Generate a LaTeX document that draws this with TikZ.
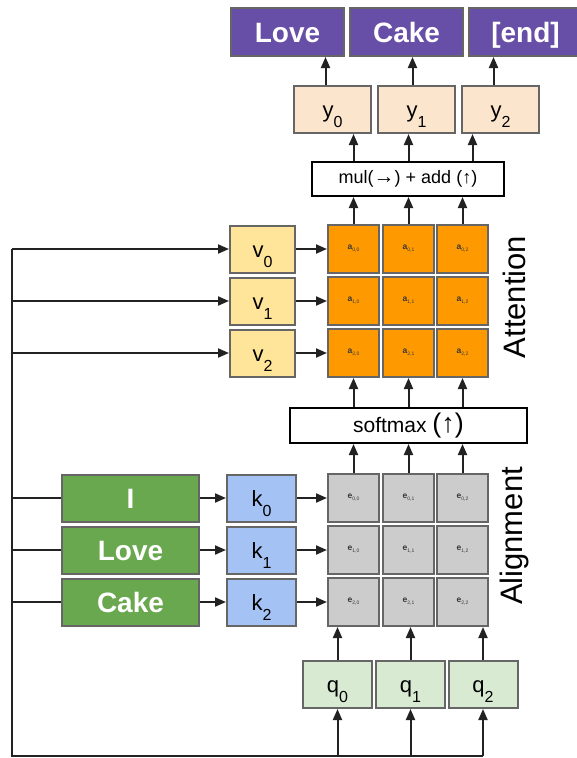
\documentclass[tikz,border=0pt]{standalone}
\usepackage{fontspec}
\setmainfont{Liberation Sans}
\usetikzlibrary{arrows.meta,calc}
\definecolor{wordpurple}{RGB}{103,78,167}
\definecolor{wordgreen}{RGB}{106,168,79}
\definecolor{keyblue}{RGB}{164,194,244}
\definecolor{valyellow}{RGB}{255,229,153}
\definecolor{attorange}{RGB}{255,153,0}
\definecolor{aligngray}{RGB}{204,204,204}
\definecolor{outpeach}{RGB}{252,229,205}
\definecolor{querygreen}{RGB}{217,234,211}
\definecolor{edgegray}{RGB}{102,102,102}
\definecolor{inkblack}{RGB}{34,34,34}
\newcommand{\lbl}[2]{#1\smash{\raisebox{-10pt}{\fontsize{16}{16}\selectfont #2}}}
\newcommand{\cellsub}[3]{{\fontsize{8.5}{8.5}\selectfont\bfseries #1}\raisebox{-2pt}{\fontsize{5}{5}\selectfont #2,#3}}

\begin{document}
\begin{tikzpicture}[x=1pt,y=-1pt,
    box/.style={draw=edgegray, line width=2pt, inner sep=0pt, minimum height=47pt},
    wordbox/.style={box, fill=#1, text=white, minimum height=48pt,
        text height=21pt, text depth=0pt, font=\fontsize{28}{28}\selectfont\bfseries},
    symbox/.style={box, fill=#1, text height=16pt, text depth=0pt,
        font=\fontsize{22}{22}\selectfont},
    cellbox/.style={box, fill=#1, minimum width=51pt, minimum height=48pt, text=inkblack!90},
    opbox/.style={draw=black, line width=2pt, fill=white, inner sep=0pt},
    link/.style={line width=2pt, draw=inkblack},
    >={Triangle[length=11pt,width=9pt]}]
    \useasboundingbox (0,0) rectangle (577,758);

    % Output words
    \foreach \i/\w/\x in {0/Love/287.5,1/Cake/406.5,2/{[end]}/525.5}
        \node[wordbox=wordpurple, minimum width=113pt] (o\i) at (\x,32) {\w};

    % Outputs y
    \foreach \i/\x in {0/332.5,1/416.5,2/500.5}
        \node[symbox=outpeach, minimum width=77pt] (y\i) at (\x,109.5) {\lbl{y}{\i}};

    % mul + add
    \node[opbox, minimum width=192pt, minimum height=34pt,
        font=\fontsize{18}{18}\selectfont] (mul) at (408,179)
        {mul({\fontsize{21}{21}\selectfont→}) + add (↑)};

    % Attention and alignment grids
    \foreach \r/\ya/\ye in {0/249/498,1/301/550,2/353/602} {
        \foreach \c/\x in {0/353.5,1/408.5,2/462.5} {
            \node[cellbox=attorange] (a\r\c) at (\x,\ya) {\cellsub{a}{\r}{\c}};
            \node[cellbox=aligngray] (e\r\c) at (\x,\ye) {\cellsub{e}{\r}{\c}};
        }
        \node[symbox=valyellow, minimum width=65pt] (v\r) at (262.5,\ya) {\lbl{v}{\r}};
        \node[symbox=keyblue, minimum width=69pt] (k\r) at (261.5,\ye) {\lbl{k}{\r}};
    }

    % Input words
    \foreach \r/\w/\ye in {0/I/498,1/Love/550,2/Cake/602}
        \node[wordbox=wordgreen, minimum width=137pt, minimum height=47pt] (w\r) at (130.5,\ye) {\w};

    % softmax
    \node[opbox, minimum width=237pt, minimum height=35pt,
        font=\fontsize{21}{21}\selectfont] (soft) at (408.5,425.5)
        {softmax {\fontsize{27}{27}\selectfont(↑)}};

    % Queries
    \foreach \i/\x in {0/337.5,1/410.5,2/483}
        \node[symbox=querygreen, minimum width=69pt] (q\i) at (\x,684.5) {\lbl{q}{\i}};

    % Side labels
    \node[rotate=90, font=\fontsize{31}{31}\selectfont] (attlabel) at (514,297) {Attention};
    \node[rotate=90, font=\fontsize{31}{31}\selectfont] (alilabel) at (514,536) {Alignment};

    % Feed line
    \coordinate (feed) at (12,756);
    \draw[link] (q2.south |- feed) -- (feed) -- (feed |- v0);

    \foreach \i/\dx/\ox in {0/0/-7,1/0/-4,2/10/-7} {
        \draw[link, ->] ([xshift=\ox pt]y\i.north) -- ([xshift=\ox pt]y\i.north |- o\i.south);
        \draw[link, ->] ([xshift=\dx pt]a0\i.north |- mul.north) -- ([xshift=\dx pt]a0\i.north |- y\i.south);
        \draw[link, ->] (a0\i.north) -- (a0\i.north |- mul.south);
        \draw[link, ->] (a2\i.south |- soft.north) -- (a2\i.south);
        \draw[link, ->] (e0\i.north) -- (e0\i.north |- soft.south);
        \draw[link, ->] (q\i.north) -- (q\i.north |- e2\i.south);
        \draw[link, ->] (q\i.south |- feed) -- (q\i.south);
        \draw[link, ->] (feed |- v\i) -- (v\i.west);
        \draw[link, ->] (v\i) -- (a\i0);
        \draw[link] (feed |- w\i) -- (w\i.west);
        \draw[link, ->] (w\i) -- (k\i);
        \draw[link, ->] (k\i) -- (e\i0);
    }
\end{tikzpicture}
\end{document}
